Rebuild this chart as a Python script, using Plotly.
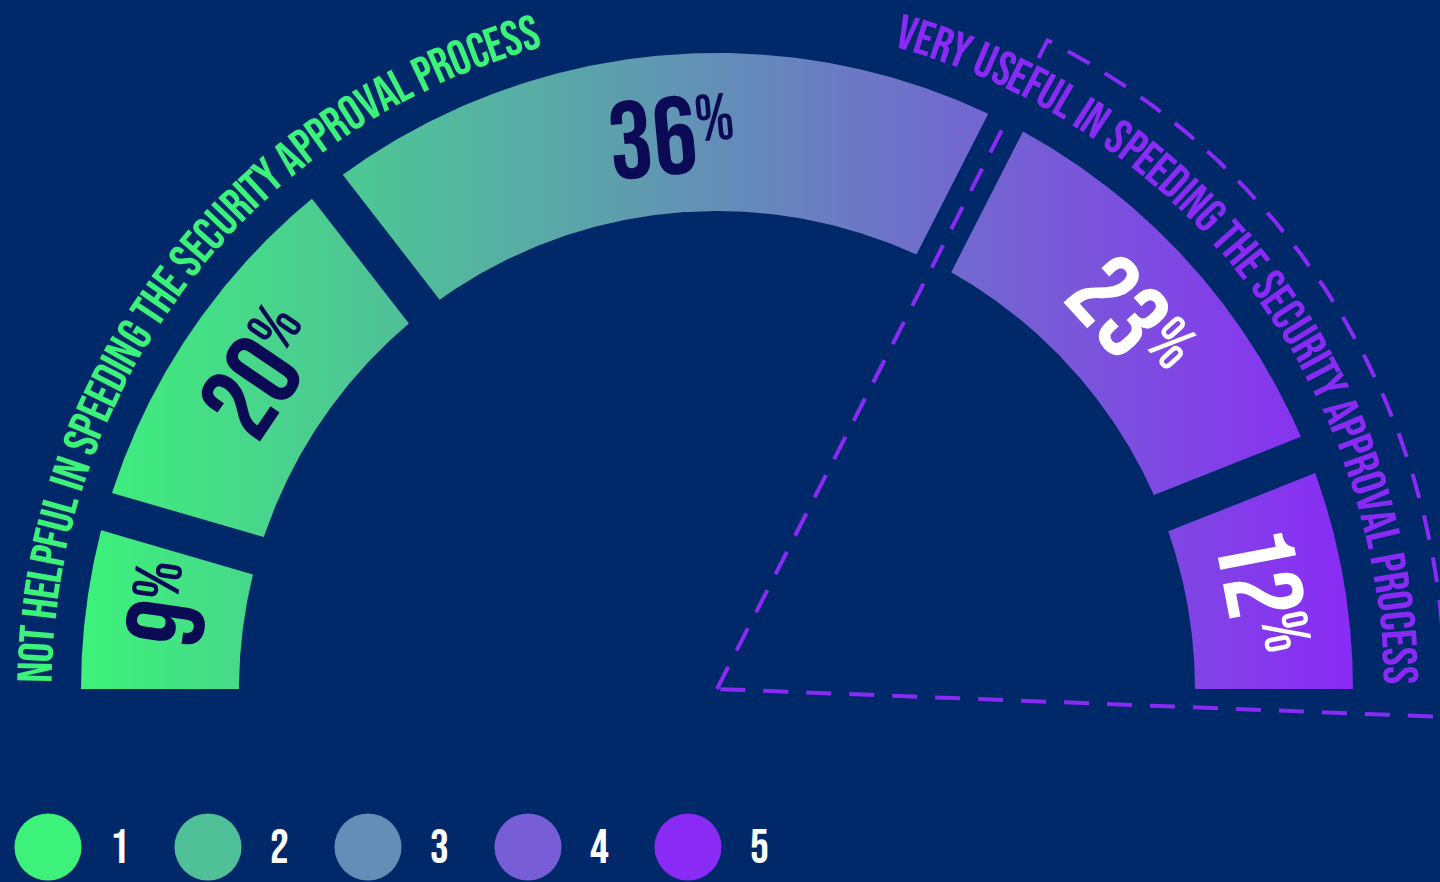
import math
import plotly.graph_objects as go

# ---------------- data ----------------
categories = ["1", "2", "3", "4", "5"]
values = [9, 20, 36, 23, 12]
left_caption = "NOT HELPFUL IN SPEEDING THE SECURITY APPROVAL PROCESS"
right_caption = "VERY USEFUL IN SPEEDING THE SECURITY APPROVAL PROCESS"

# ---------------- style ----------------
W, H = 1440, 882
CX, CY = 717, 689
R_OUT, R_IN = 636, 478
GAP = 39
BG = "#01296A"
GREEN = "#3DF27A"
PURPLE = "#8A2BF5"
DARK = "#0B0A55"
FONT = "Bebas Neue, Oswald, Roboto Condensed, sans-serif"

# approximate Bebas Neue advance widths (em)
WID = {"A": .384, "B": .393, "C": .376, "D": .395, "E": .335, "F": .321, "G": .388,
       "H": .405, "I": .168, "L": .313, "N": .412, "O": .385, "P": .370, "R": .389,
       "S": .358, "T": .316, "U": .397, "V": .380, "Y": .359, " ": .16}
DIGIT_W = 0.39
PCT_W = 0.52


def hex2rgb(h):
    h = h.lstrip("#")
    return tuple(int(h[i:i + 2], 16) for i in (0, 2, 4))


def mix(c1, c2, t):
    a, b = hex2rgb(c1), hex2rgb(c2)
    return "#%02x%02x%02x" % tuple(round(a[i] + (b[i] - a[i]) * t) for i in range(3))


def pt(r, th_deg):
    t = math.radians(th_deg)
    return CX + r * math.cos(t), CY - r * math.sin(t)


fig = go.Figure()
annotations = []

# ---------------- ring segments ----------------
total = sum(values)
cum = 0
colorscale = [[0, GREEN], [1, PURPLE]]
NUM_SIZE, PCT_SIZE = 110, 66
R_LABEL = 550
for i, v in enumerate(values):
    th_hi = 180 - 180 * cum / total
    cum += v
    th_lo = 180 - 180 * cum / total

    def edge_hi(r):
        if i == 0:
            return th_hi
        return th_hi - math.degrees(math.asin(GAP / 2 / r))

    def edge_lo(r):
        if i == len(values) - 1:
            return th_lo
        return th_lo + math.degrees(math.asin(GAP / 2 / r))

    n = 160
    xs, ys = [], []
    a0, a1 = edge_hi(R_OUT), edge_lo(R_OUT)
    for k in range(n + 1):
        x, y = pt(R_OUT, a0 + (a1 - a0) * k / n)
        xs.append(x); ys.append(y)
    b0, b1 = edge_lo(R_IN), edge_hi(R_IN)
    for k in range(n + 1):
        x, y = pt(R_IN, b0 + (b1 - b0) * k / n)
        xs.append(x); ys.append(y)
    xs.append(xs[0]); ys.append(ys[0])
    fig.add_trace(go.Scatter(
        x=xs, y=ys, mode="lines", fill="toself", line=dict(width=0),
        fillgradient=dict(type="horizontal", colorscale=colorscale,
                          start=CX - R_OUT, stop=CX + R_OUT),
        hoverinfo="skip", showlegend=False))

    # label: number + small raised percent sign, rotated along the arc
    mid = (th_hi + th_lo) / 2
    lx, ly = pt(R_LABEL, mid)
    rad = math.radians(mid)
    tx, ty = math.sin(rad), math.cos(rad)        # reading direction (screen)
    ux, uy = math.cos(rad), -math.sin(rad)       # glyph-up direction (screen)
    s = str(v)
    nw = DIGIT_W * NUM_SIZE * len(s)
    pw = PCT_W * PCT_SIZE
    shift = (pw + 3) / 3
    ncx = lx - tx * shift
    ncy = ly - ty * shift
    up = 0.37 * (NUM_SIZE - PCT_SIZE)
    along = nw / 2 + 3 + pw / 2
    pcx = ncx + tx * along + ux * up
    pcy = ncy + ty * along + uy * up
    col = DARK if i < 3 else "white"
    annotations.append(dict(
        x=ncx, y=ncy, xref="x", yref="y", showarrow=False, text=s, textangle=90 - mid,
        font=dict(family=FONT, size=NUM_SIZE, color=col), xanchor="center", yanchor="middle"))
    annotations.append(dict(
        x=pcx, y=pcy, xref="x", yref="y", showarrow=False, text="%", textangle=90 - mid,
        font=dict(family=FONT, size=PCT_SIZE, color=col), xanchor="center", yanchor="middle"))

# ---------------- dashed wedge ----------------
wedge_hi = 180 - 180 * sum(values[:3]) / total
wedge_lo = -2.2
R_W = 728
dash_line = dict(color=PURPLE, width=4, dash="25px,18px")
# inner part of the upper edge (through the gap of the ring)
ax_, ay_ = pt(640, wedge_hi)
fig.add_trace(go.Scatter(x=[CX, ax_], y=[CY, ay_], mode="lines", line=dash_line,
                         hoverinfo="skip", showlegend=False))
# outer corner, arc and lower edge
wx, wy = [], []
x0, y0 = pt(708, wedge_hi)
wx.append(x0); wy.append(y0)
for k in range(201):
    x, y = pt(R_W, wedge_hi + (wedge_lo - wedge_hi) * k / 200)
    wx.append(x); wy.append(y)
wx.append(CX); wy.append(CY)
fig.add_trace(go.Scatter(x=wx, y=wy, mode="lines", line=dash_line,
                         hoverinfo="skip", showlegend=False))


# ---------------- curved captions ----------------
def arc_text(text, r, th_start, th_end, color):
    ws = [WID.get(c, .38) for c in text]
    centers, acc = [], 0
    for w in ws:
        centers.append(acc + w / 2)
        acc += w
    span_em = centers[-1] - centers[0]
    arc_len = r * math.radians(abs(th_start - th_end))
    size = min(arc_len / span_em, 49)
    for c, s in zip(text, centers):
        if c == " ":
            continue
        th = th_start - (s - centers[0]) / span_em * (th_start - th_end)
        x, y = pt(r, th)
        annotations.append(dict(
            x=x, y=y, xref="x", yref="y", showarrow=False, text=c,
            textangle=90 - th, font=dict(family=FONT, size=size, color=color),
            xanchor="center", yanchor="middle"))


arc_text(left_caption, 680, 178.6, 106.0, GREEN)
arc_text(right_caption, 681, 73.8, 1.2, PURPLE)

# ---------------- legend ----------------
leg_cols = [mix(GREEN, PURPLE, i / (len(categories) - 1)) for i in range(len(categories))]
fig.add_trace(go.Scatter(
    x=[48 + 160 * i for i in range(len(categories))], y=[847] * len(categories),
    mode="markers", marker=dict(size=67, color=leg_cols, line=dict(width=0)),
    hoverinfo="skip", showlegend=False))
for i, c in enumerate(categories):
    annotations.append(dict(
        x=119 + 160 * i, y=849, xref="x", yref="y", showarrow=False,
        text=c, font=dict(family=FONT, size=47, color="white"),
        xanchor="center", yanchor="middle"))

fig.update_layout(
    width=W, height=H, margin=dict(l=0, r=0, t=0, b=0),
    paper_bgcolor=BG, plot_bgcolor=BG,
    xaxis=dict(range=[0, W], visible=False, fixedrange=True),
    yaxis=dict(range=[H, 0], visible=False, fixedrange=True),
    annotations=annotations, showlegend=False)

fig.write_html("out.html", config={"displayModeBar": False},
               post_script="document.body.style.margin='0px';document.body.style.background='%s';" % BG)
